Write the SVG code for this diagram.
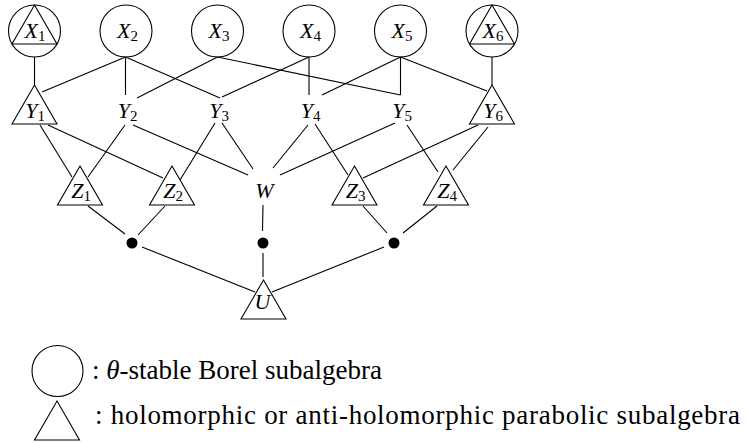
<svg xmlns="http://www.w3.org/2000/svg" xmlns:xlink="http://www.w3.org/1999/xlink" width="747" height="443" viewBox="0 0 747 443">
<style>
.sh{fill:none;stroke:#000;stroke-width:1.1}
.ed{fill:none;stroke:#000;stroke-width:1.1;stroke-linecap:butt}
.lb{font-family:'Liberation Serif','DejaVu Serif','Times New Roman',serif;font-style:italic;font-size:22px;fill:#000}
.sb{font-style:normal;font-size:15px}
.lg{font-family:'Liberation Serif','DejaVu Serif','Times New Roman',serif;font-size:27px;fill:#000}
.dot{fill:#000}
</style>
<defs>
<polygon id="tri" points="0,0 22.5,39 -22.5,39" class="sh"/>
<circle id="circ" cx="0" cy="0" r="26" class="sh"/>
</defs>
<rect width="747" height="443" fill="#fff"/>
<g id="connectors">
<line class="ed" x1="34.5" y1="57" x2="34.5" y2="85"/>
<line class="ed" x1="125.5" y1="57" x2="42" y2="92"/>
<line class="ed" x1="125.5" y1="57" x2="125.5" y2="95"/>
<line class="ed" x1="125.5" y1="57" x2="220" y2="98"/>
<line class="ed" x1="217.5" y1="57" x2="137" y2="98"/>
<line class="ed" x1="217.5" y1="57" x2="400.5" y2="95"/>
<line class="ed" x1="309" y1="57" x2="222" y2="97"/>
<line class="ed" x1="309" y1="57" x2="309" y2="95"/>
<line class="ed" x1="400.5" y1="57" x2="322" y2="95"/>
<line class="ed" x1="400.5" y1="57" x2="400.5" y2="95"/>
<line class="ed" x1="400.5" y1="57" x2="487" y2="91"/>
<line class="ed" x1="492" y1="57" x2="492" y2="85"/>
<line class="ed" x1="40" y1="125" x2="72" y2="177"/>
<line class="ed" x1="48" y1="125" x2="163" y2="178"/>
<line class="ed" x1="125" y1="125" x2="88" y2="177"/>
<line class="ed" x1="133" y1="125" x2="248" y2="175"/>
<line class="ed" x1="215" y1="123" x2="180" y2="180"/>
<line class="ed" x1="222" y1="123" x2="253" y2="169"/>
<line class="ed" x1="308" y1="125" x2="273" y2="168"/>
<line class="ed" x1="315" y1="124" x2="348" y2="175"/>
<line class="ed" x1="395" y1="123" x2="280" y2="175"/>
<line class="ed" x1="407" y1="125" x2="438" y2="172"/>
<line class="ed" x1="478" y1="125" x2="363" y2="178"/>
<line class="ed" x1="488" y1="127" x2="453" y2="170"/>
<line class="ed" x1="88" y1="206" x2="125" y2="234"/>
<line class="ed" x1="165" y1="206" x2="138" y2="235"/>
<line class="ed" x1="263" y1="205" x2="262.5" y2="231"/>
<line class="ed" x1="363" y1="206" x2="387" y2="233"/>
<line class="ed" x1="437" y1="206" x2="403" y2="233"/>
<line class="ed" x1="142" y1="247" x2="255" y2="292"/>
<line class="ed" x1="263" y1="253" x2="263" y2="277"/>
<line class="ed" x1="384" y1="247" x2="272" y2="292"/>
</g>
<g id="X1"><use xlink:href="#circ" x="34.5" y="31"/><use xlink:href="#tri" x="34.5" y="5"/><text class="lb" x="35" y="38" text-anchor="middle">X<tspan class="sb" dy="3">1</tspan></text></g>
<g id="X2"><use xlink:href="#circ" x="126" y="31"/><text class="lb" x="127.5" y="38" text-anchor="middle">X<tspan class="sb" dy="3">2</tspan></text></g>
<g id="X3"><use xlink:href="#circ" x="217.5" y="31"/><text class="lb" x="219" y="38" text-anchor="middle">X<tspan class="sb" dy="3">3</tspan></text></g>
<g id="X4"><use xlink:href="#circ" x="309" y="31"/><text class="lb" x="310.5" y="38" text-anchor="middle">X<tspan class="sb" dy="3">4</tspan></text></g>
<g id="X5"><use xlink:href="#circ" x="400.5" y="31"/><text class="lb" x="402" y="38" text-anchor="middle">X<tspan class="sb" dy="3">5</tspan></text></g>
<g id="X6"><use xlink:href="#circ" x="492" y="31"/><use xlink:href="#tri" x="492" y="5"/><text class="lb" x="493" y="38" text-anchor="middle">X<tspan class="sb" dy="3">6</tspan></text></g>
<g id="Y1"><use xlink:href="#tri" x="34.5" y="85"/><text class="lb" x="35" y="118" text-anchor="middle">Y<tspan class="sb" dy="3">1</tspan></text></g>
<g id="Y2"><text class="lb" x="127.5" y="118" text-anchor="middle">Y<tspan class="sb" dy="3">2</tspan></text></g>
<g id="Y3"><text class="lb" x="219" y="118" text-anchor="middle">Y<tspan class="sb" dy="3">3</tspan></text></g>
<g id="Y4"><text class="lb" x="310.5" y="118" text-anchor="middle">Y<tspan class="sb" dy="3">4</tspan></text></g>
<g id="Y5"><text class="lb" x="402" y="118" text-anchor="middle">Y<tspan class="sb" dy="3">5</tspan></text></g>
<g id="Y6"><use xlink:href="#tri" x="492" y="85"/><text class="lb" x="493" y="118" text-anchor="middle">Y<tspan class="sb" dy="3">6</tspan></text></g>
<g id="Z1"><use xlink:href="#tri" x="80" y="166"/><text class="lb" x="81" y="198" text-anchor="middle">Z<tspan class="sb" dy="3">1</tspan></text></g>
<g id="Z2"><use xlink:href="#tri" x="172" y="166"/><text class="lb" x="173" y="198" text-anchor="middle">Z<tspan class="sb" dy="3">2</tspan></text></g>
<g id="W"><text class="lb" x="264.5" y="198" text-anchor="middle">W</text></g>
<g id="Z3"><use xlink:href="#tri" x="354.5" y="166"/><text class="lb" x="355.5" y="198" text-anchor="middle">Z<tspan class="sb" dy="3">3</tspan></text></g>
<g id="Z4"><use xlink:href="#tri" x="446" y="166"/><text class="lb" x="447" y="198" text-anchor="middle">Z<tspan class="sb" dy="3">4</tspan></text></g>
<g id="P1"><circle class="dot" cx="132" cy="243" r="5.5"/></g>
<g id="P2"><circle class="dot" cx="263" cy="243" r="5.5"/></g>
<g id="P3"><circle class="dot" cx="394" cy="243" r="5.5"/></g>
<g id="U"><use xlink:href="#tri" x="263.5" y="280"/><text class="lb" x="262.5" y="309" text-anchor="middle">U</text></g>
<g id="legend">
<circle class="sh" cx="57.5" cy="371" r="25.5"/>
<text class="lg" x="92" y="379">: <tspan font-style="italic">θ</tspan>-stable Borel subalgebra</text>
<use xlink:href="#tri" x="57" y="401"/>
<text class="lg" x="95" y="424" textLength="645" lengthAdjust="spacing">: holomorphic or anti-holomorphic parabolic subalgebra</text>
</g>
</svg>
